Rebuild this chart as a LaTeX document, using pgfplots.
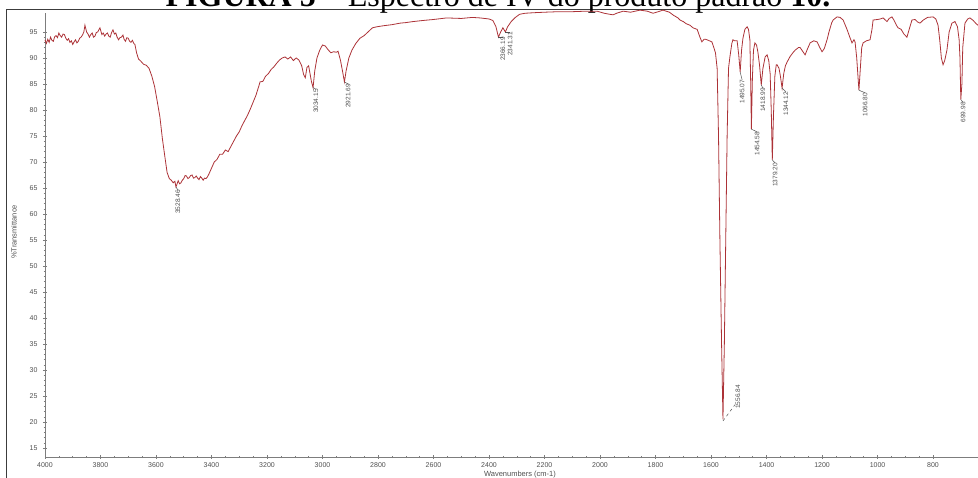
\documentclass[border=0pt]{standalone}
\usepackage{pgfplots}
\pgfplotsset{compat=1.18}
\usepackage{fontspec}
\setmainfont{Liberation Serif}
\newfontfamily\arial{Liberation Sans}
\definecolor{spec}{RGB}{172,50,55}
\definecolor{axgray}{RGB}{125,125,125}
\definecolor{lblgray}{RGB}{80,80,80}
\definecolor{framegray}{RGB}{60,60,60}

% peak annotation: peak position, label position (top of rotated text), label text
\newcommand{\pk}[5]{%
  \draw[lblgray, line width=0.5bp] (axis cs:#1,#2) -- (axis cs:#3,#4);
  \node[rotate=90, anchor=east, inner sep=0pt, text=lblgray,
        font=\arial\fontsize{6.5bp}{7bp}\selectfont] at (axis cs:#3,#4) {#5};}

\begin{document}
\begin{tikzpicture}[x=1bp,y=1bp]
\useasboundingbox (-45,-21) rectangle (933,457);
\clip (-45,-21) rectangle (933,457);
\draw[line width=1.2bp, framegray] (-38.5,447.5) rectangle (1000,-60);
\node[anchor=base, inner sep=0pt, font=\fontsize{32bp}{36bp}\selectfont] at (453,450.5)
  {\textbf{FIGURA 5} – Espectro de IV do produto padrão \textbf{10.}};
\begin{axis}[
  at={(0,0)}, anchor=south west,
  scale only axis, width=933bp, height=444bp,
  x dir=reverse, xmin=638, xmax=4000,
  ymin=13.27, ymax=98.65,
  axis x line*=bottom, axis y line*=left,
  axis line style={color=axgray, line width=0.6bp},
  xtick={800,1000,...,4000}, minor x tick num=3,
  ytick={15,20,...,95}, minor y tick num=4,
  tick align=center, major tick length=4bp, minor tick length=2.5bp,
  tick style={color=axgray, line width=0.5bp},
  ticklabel style={font=\arial\fontsize{7bp}{8bp}\selectfont, text=lblgray},
  yticklabel style={xshift=-2bp},
  /pgf/number format/assume math mode=true,
  /pgf/number format/1000 sep={},
  clip=false,
]
\addplot[spec, line width=0.8bp] coordinates {
(4000,93.5) (3995,92.8) (3990,93.6) (3985,93.0) (3980,94.0) (3975,93.4) (3970,93.2) (3965,94.1) (3960,94.3) (3955,93.9) (3950,94.8) (3945,94.3) (3940,94.0)
(3935,94.6) (3930,94.5) (3925,93.8) (3920,93.4) (3915,93.7) (3910,93.0) (3905,93.3) (3900,92.6) (3895,93.1) (3890,93.5) (3885,92.9) (3880,93.2) (3875,93.8) (3870,94.0)
(3865,94.4) (3860,95.0) (3856,96.3) (3850,95.0) (3845,94.6) (3840,94.0) (3835,94.5) (3830,94.8) (3825,94.0) (3820,94.2) (3815,94.9) (3810,95.0)
(3802,95.8) (3795,94.5) (3790,94.8) (3785,94.2) (3780,94.6) (3775,94.8) (3770,94.2) (3765,94.0) (3760,94.9) (3755,95.4) (3750,94.6) (3745,94.8)
(3740,94.0) (3735,93.5) (3730,93.9) (3725,94.0) (3719,94.4) (3715,93.6) (3710,93.2) (3705,93.9) (3700,93.8) (3695,93.2) (3690,93.0) (3685,93.4) (3680,92.8)
(3676,92.6) (3670,91.0) (3663,89.8) (3655,89.4) (3645,88.8) (3635,88.6) (3625,88.0)
(3615,86.5) (3605,84.5) (3595,81.5) (3586,78.7) (3577,74.5) (3568,71.0) (3560,68.0)
(3552,66.8) (3545,66.5) (3538,66.0) (3532,66.3) (3528,65.2) (3520,66.4) (3515,65.8) (3510,66.0)
(3505,66.5) (3500,66.8) (3495,67.4) (3490,67.3) (3485,66.8) (3480,67.0) (3475,67.4) (3470,67.5) (3465,66.9) (3460,67.0) (3455,67.3) (3450,66.9) (3445,66.6) (3440,67.2)
(3435,66.9) (3430,66.5) (3425,66.9) (3420,66.8) (3415,67.1) (3410,67.6) (3400,68.8) (3390,70.0) (3380,70.5) (3370,71.5)
(3360,71.5) (3350,72.3) (3340,72.0) (3330,73.0) (3320,74.0) (3310,75.0) (3300,75.8)
(3290,77.0) (3280,78.0) (3270,79.0) (3260,80.2) (3250,81.5) (3240,82.8) (3230,84.5)
(3225,85.4) (3215,85.5) (3205,86.5) (3195,87.0) (3185,87.8) (3175,88.3) (3165,89.0)
(3155,89.6) (3145,90.0) (3135,90.2) (3125,89.8) (3115,90.2) (3105,89.5) (3095,90.0)
(3085,89.6) (3075,88.5) (3068,86.8) (3062,86.2) (3056,88.2) (3050,88.5) (3045,87.0)
(3040,85.5) (3034,84.3) (3028,87.5) (3020,90.0) (3010,91.5) (3000,92.5) (2990,92.3)
(2980,91.6) (2970,91.0) (2960,91.2) (2950,91.1) (2944,91.3) (2935,89.5) (2928,87.5)
(2921,85.4) (2915,87.5) (2905,90.0) (2894,91.5) (2880,92.8) (2865,93.8) (2850,94.3)
(2836,95.0) (2820,95.8) (2804,96.0) (2780,96.2) (2750,96.4) (2720,96.7) (2700,96.8)
(2674,97.0) (2640,97.2) (2600,97.4) (2553,97.7) (2500,97.6) (2460,97.8) (2432,97.7)
(2400,97.5) (2386,97.2) (2375,96.0) (2366,94.0) (2358,95.0) (2350,95.8) (2341,95.0)
(2333,96.0) (2320,97.0) (2305,97.8) (2290,98.4) (2270,98.6) (2240,98.7) (2200,98.8)
(2150,98.9) (2100,98.9) (2050,99.0) (2011,99.0) (1985,98.6) (1965,98.4) (1953,98.3)
(1940,98.6) (1917,99.0) (1890,98.8) (1856,99.2) (1830,99.0) (1809,98.6) (1790,98.9)
(1773,99.2) (1750,98.8) (1735,98.2) (1719,97.7) (1712,97.3) (1700,97.0) (1690,96.6)
(1676,96.3) (1665,95.8) (1650,95.5) (1640,94.0) (1633,93.1) (1625,93.6) (1620,93.6)
(1610,93.4) (1597,93.1) (1590,92.0) (1584,91.0) (1578,88.0) (1573,75.0) (1568,55.0)
(1562,35.0) (1557,20.5) (1552,35.0) (1547,55.0) (1542,75.0) (1537,88.0) (1532,90.2)
(1525,92.8) (1521,93.5) (1515,93.3) (1506,93.3) (1500,90.5) (1495,87.3) (1490,91.5)
(1485,93.8) (1478,95.5) (1470,96.0) (1465,95.5) (1460,93.5) (1457,85.0) (1454.6,76.3)
(1451,86.0) (1447,91.5) (1442,92.9) (1436,92.5) (1431,91.1) (1425,88.5) (1419,84.8)
(1413,88.0) (1405,90.2) (1398,90.6) (1392,89.5) (1387,87.0) (1383,80.0) (1379.2,70.4)
(1375,79.0) (1370,86.5) (1365,88.7) (1362,88.7) (1355,88.0) (1350,86.5) (1344,84.2)
(1338,87.0) (1332,88.5) (1326,89.2) (1315,90.3) (1305,91.0) (1297,91.5) (1285,92.0)
(1279,92.0) (1270,91.3) (1261,90.6) (1252,91.8) (1243,92.9) (1230,93.3) (1218,93.1)
(1208,92.0) (1200,91.2) (1192,91.8) (1182,93.5) (1175,95.0) (1165,96.8) (1160,97.3)
(1146,97.9) (1135,97.8) (1124,97.3) (1110,95.5) (1100,94.0) (1092,92.9) (1085,93.5)
(1081,93.1) (1075,90.0) (1070,86.0) (1067,83.8) (1062,88.0) (1057,92.0) (1052,92.9)
(1040,93.3) (1027,93.5) (1020,95.5) (1016,97.3) (1000,97.4) (990,97.5) (980,97.7)
(972,97.3) (966,97.0) (958,97.6) (948,97.9) (940,97.2) (932,96.3) (926,95.8)
(915,95.5) (905,94.6) (894,94.0) (886,95.5) (876,97.3) (865,97.4) (855,96.9)
(847,96.7) (835,97.3) (820,97.8) (800,97.9) (790,97.5) (782,96.3) (776,93.5)
(770,90.0) (764,88.7) (758,89.5) (750,91.5) (742,95.0) (732,96.7) (721,97.0)
(712,96.0) (706,93.5) (703,90.0) (700,82.0) (696,85.0) (693,92.0) (685,96.7)
(675,97.5) (667,97.7) (655,97.2) (645,96.6) (638,96.3)
};
\pk{3528}{65.2}{3521}{64.6}{3528.46}
\pk{3034}{84.3}{3024}{84.0}{3034.15}
\pk{2921}{85.4}{2908}{85.0}{2921.69}
\pk{2366}{94.0}{2350}{94.0}{2366.19}
\pk{2341}{95.0}{2324}{95.0}{2341.31}
\pk{1495}{87.3}{1488}{85.8}{1495.07}
\pk{1454.6}{76.3}{1434}{75.8}{1454.58}
\pk{1419}{84.8}{1413}{84.2}{1418.99}
\pk{1379.2}{70.4}{1369}{69.8}{1379.20}
\pk{1344}{84.2}{1330}{83.5}{1344.12}
\pk{1067}{83.8}{1045}{83.3}{1066.80}
\pk{700}{82.0}{692}{81.5}{699.98}
\draw[lblgray, line width=0.5bp, dashed] (axis cs:1557,20.2) -- (axis cs:1514,23.3);
\node[rotate=90, anchor=east, inner sep=0pt, text=lblgray,
      font=\arial\fontsize{6.5bp}{7bp}\selectfont] at (axis cs:1503,27.1) {1556.84};
\end{axis}
\node[rotate=90, text=lblgray, font=\arial\fontsize{7.5bp}{8bp}\selectfont] at (-31,225) {\%Transmittance};
\node[anchor=base, text=lblgray, font=\arial\fontsize{7.5bp}{8bp}\selectfont] at (475,-20) {Wavenumbers (cm-1)};
\end{tikzpicture}
\end{document}
